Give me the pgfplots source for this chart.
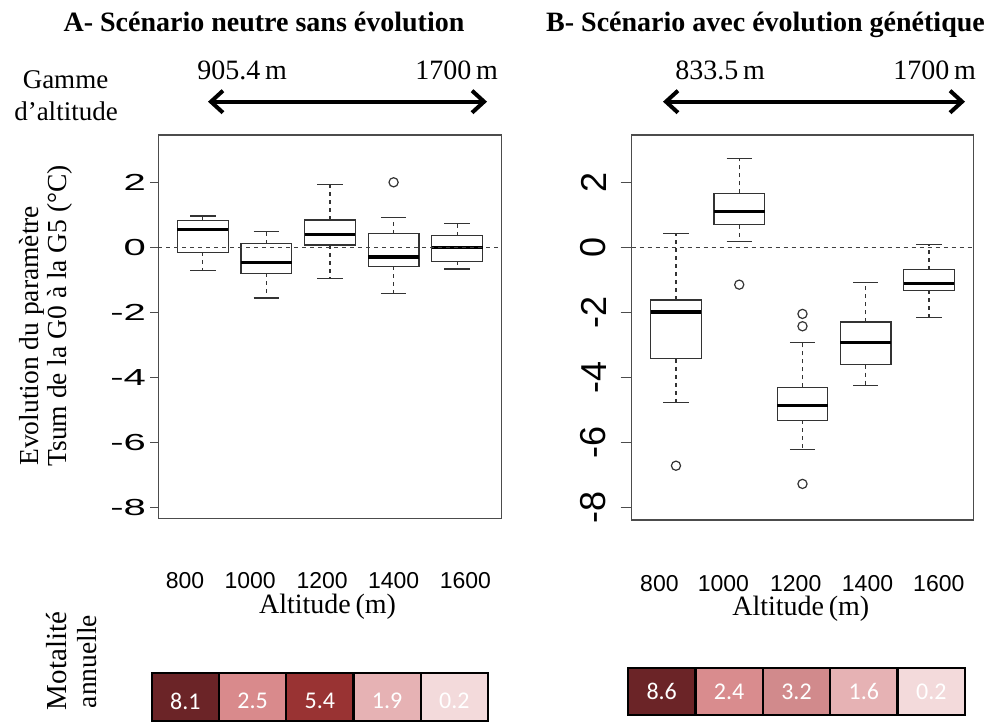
\documentclass[border=0pt]{standalone}
\usepackage{fontspec}
\setmainfont{Liberation Serif}
\newfontfamily\arial{Liberation Sans}
\newfontfamily\calibri{Carlito}
\usepackage{graphicx}
\usepackage{pgfplots}
\pgfplotsset{compat=1.18}
\usepgfplotslibrary{statistics}
\usetikzlibrary{arrows.meta}
\definecolor{cA1}{HTML}{6B2427}
\definecolor{cA2}{HTML}{D98A8C}
\definecolor{cA3}{HTML}{993333}
\definecolor{cA4}{HTML}{E6B2B4}
\definecolor{cA5}{HTML}{F3DADB}
\definecolor{cB1}{HTML}{6B2427}
\definecolor{cB2}{HTML}{D98C8E}
\definecolor{cB3}{HTML}{D18A8C}
\definecolor{cB4}{HTML}{E6B2B4}
\definecolor{cB5}{HTML}{F3DADB}
\newcommand\sq[1]{\scalebox{1}[0.58]{#1}}
\pgfplotsset{
  mybp/.style={
    solid, draw=black!80, line width=0.6pt,
    mark=o, mark size=2.3pt, mark options={solid, line width=0.6pt, draw=black!80},
    boxplot/draw direction=y,
    boxplot/box extend=0.8,
    boxplot/whisker extend=0,
    boxplot/every box/.style={draw=black!80, line width=0.6pt, fill=white},
    boxplot/every median/.style={draw=black, line width=1.6pt},
    boxplot/every whisker/.style={draw=black!80, line width=0.6pt, dash pattern=on 2pt off 2pt},
  },
  caps/.style={draw=black!80, line width=0.6pt, solid, no marks, unbounded coords=jump},
  panel/.style={
    anchor=south west, scale only axis, clip=false,
    xmin=0.3, xmax=5.7, ymax=3.455,
    axis line style={draw=black!70, line width=0.6pt},
    xticklabels={800,1000,1200,1400,1600},
    x tick style={draw=none},
    xticklabel style={anchor=center, font=\arial\fontsize{11.5}{13}\selectfont},
    ytick={-8,-6,-4,-2,0,2},
    y tick style={draw=black!70, line width=0.6pt},
    tick align=outside, ytick pos=left, xtick pos=bottom,
  },
  heat/.style={
    anchor=south west, scale only axis, hide axis, clip=false,
    xmin=0.5, xmax=5.5, ymin=0, ymax=1,
  },
  cell/.style={draw=black, line width=1.2pt, fill=#1},
}
\begin{document}
\begin{tikzpicture}[x=0.5pt, y=0.5pt]
\useasboundingbox (0,0) rectangle (987,722);

% ---------------- Panel A ----------------
\begin{axis}[panel,
  at={(79.15pt,101.85pt)}, width=171.7pt, height=191.65pt, ymin=-8.338,
  xtick={0.72,1.745,2.877,4.0,5.13},
  xticklabel style={yshift=-27.25pt},
  major tick length=4pt,
  yticklabels={\sq{-8},\sq{-6},\sq{-4},\sq{-2},\sq{0},\sq{2}},
  yticklabel style={anchor=east, inner sep=0pt, xshift=-2pt, font=\arial\fontsize{20}{22}\selectfont},
]
\addplot[mybp, boxplot prepared={draw position=1, lower whisker=-0.71, lower quartile=-0.15, median=0.55, upper quartile=0.82, upper whisker=0.96}] coordinates {};
\addplot[mybp, boxplot prepared={draw position=2, lower whisker=-1.56, lower quartile=-0.80, median=-0.46, upper quartile=0.11, upper whisker=0.49}] coordinates {};
\addplot[mybp, boxplot prepared={draw position=3, lower whisker=-0.95, lower quartile=0.07, median=0.40, upper quartile=0.84, upper whisker=1.93}] coordinates {};
\addplot[mybp, boxplot prepared={draw position=4, lower whisker=-1.42, lower quartile=-0.58, median=-0.30, upper quartile=0.42, upper whisker=0.92}] coordinates {(0,2.00)};
\addplot[mybp, boxplot prepared={draw position=5, lower whisker=-0.67, lower quartile=-0.43, median=-0.01, upper quartile=0.36, upper whisker=0.73}] coordinates {};
% whisker caps
\addplot[caps] coordinates {
 (0.8,0.96) (1.2,0.96) (nan,nan) (0.8,-0.71) (1.2,-0.71) (nan,nan)
 (1.8,0.49) (2.2,0.49) (nan,nan) (1.8,-1.56) (2.2,-1.56) (nan,nan)
 (2.8,1.93) (3.2,1.93) (nan,nan) (2.8,-0.95) (3.2,-0.95) (nan,nan)
 (3.8,0.92) (4.2,0.92) (nan,nan) (3.8,-1.42) (4.2,-1.42) (nan,nan)
 (4.8,0.73) (5.2,0.73) (nan,nan) (4.8,-0.67) (5.2,-0.67)};
\addplot[black!75, line width=0.5pt, dash pattern=on 2pt off 2pt] coordinates {(0.3,0) (5.7,0)};
\end{axis}

% ---------------- Panel B ----------------
\begin{axis}[panel,
  at={(315.85pt,101pt)}, width=170.8pt, height=192.5pt, ymin=-8.39,
  xtick={0.738,1.749,2.893,4.028,5.155},
  xticklabel style={yshift=-26.4pt},
  major tick length=5.5pt,
  yticklabels={-8,-6,-4,-2,0,2},
  yticklabel style={xshift=-7pt, rotate=90, anchor=south, inner sep=0pt, font=\arial\fontsize{18}{20}\selectfont},
]
\addplot[mybp, boxplot prepared={draw position=1, lower whisker=-4.77, lower quartile=-3.43, median=-1.99, upper quartile=-1.62, upper whisker=0.43}] coordinates {(0,-6.72)};
\addplot[mybp, boxplot prepared={draw position=2, lower whisker=0.17, lower quartile=0.69, median=1.11, upper quartile=1.66, upper whisker=2.72}] coordinates {(0,-1.15)};
\addplot[mybp, boxplot prepared={draw position=3, lower whisker=-6.23, lower quartile=-5.32, median=-4.86, upper quartile=-4.31, upper whisker=-2.94}] coordinates {(0,-2.05) (0,-2.43) (0,-7.28)};
\addplot[mybp, boxplot prepared={draw position=4, lower whisker=-4.25, lower quartile=-3.61, median=-2.92, upper quartile=-2.30, upper whisker=-1.09}] coordinates {};
\addplot[mybp, boxplot prepared={draw position=5, lower whisker=-2.15, lower quartile=-1.32, median=-1.11, upper quartile=-0.69, upper whisker=0.09}] coordinates {};
\addplot[caps] coordinates {
 (0.8,0.43) (1.2,0.43) (nan,nan) (0.8,-4.77) (1.2,-4.77) (nan,nan)
 (1.8,2.72) (2.2,2.72) (nan,nan) (1.8,0.17) (2.2,0.17) (nan,nan)
 (2.8,-2.94) (3.2,-2.94) (nan,nan) (2.8,-6.23) (3.2,-6.23) (nan,nan)
 (3.8,-1.09) (4.2,-1.09) (nan,nan) (3.8,-4.25) (4.2,-4.25) (nan,nan)
 (4.8,0.09) (5.2,0.09) (nan,nan) (4.8,-2.15) (5.2,-2.15)};
\addplot[black!75, line width=0.5pt, dash pattern=on 2pt off 2pt] coordinates {(0.3,0) (5.7,0)};
\end{axis}

% ---------------- Heat strips ----------------
\begin{axis}[heat, at={(75.85pt,0.5pt)}, width=168.15pt, height=23.85pt]
\addplot[cell=cA1] coordinates {(0.5,0) (1.5,0) (1.5,1) (0.5,1)} -- cycle;
\addplot[cell=cA2] coordinates {(1.5,0) (2.5,0) (2.5,1) (1.5,1)} -- cycle;
\addplot[cell=cA3] coordinates {(2.5,0) (3.5,0) (3.5,1) (2.5,1)} -- cycle;
\addplot[cell=cA4] coordinates {(3.5,0) (4.5,0) (4.5,1) (3.5,1)} -- cycle;
\addplot[cell=cA5] coordinates {(4.5,0) (5.5,0) (5.5,1) (4.5,1)} -- cycle;
\node[text=white, font=\calibri\fontsize{12}{14}\selectfont] at (axis cs:1,0.42) {8.1};
\node[text=white, font=\calibri\fontsize{12}{14}\selectfont] at (axis cs:2,0.42) {2.5};
\node[text=white, font=\calibri\fontsize{12}{14}\selectfont] at (axis cs:3,0.42) {5.4};
\node[text=white, font=\calibri\fontsize{12}{14}\selectfont] at (axis cs:4,0.42) {1.9};
\node[text=white, font=\calibri\fontsize{12}{14}\selectfont] at (axis cs:5,0.42) {0.2};
\end{axis}
\begin{axis}[heat, at={(314pt,3.5pt)}, width=168.5pt, height=23.5pt]
\addplot[cell=cB1] coordinates {(0.5,0) (1.5,0) (1.5,1) (0.5,1)} -- cycle;
\addplot[cell=cB2] coordinates {(1.5,0) (2.5,0) (2.5,1) (1.5,1)} -- cycle;
\addplot[cell=cB3] coordinates {(2.5,0) (3.5,0) (3.5,1) (2.5,1)} -- cycle;
\addplot[cell=cB4] coordinates {(3.5,0) (4.5,0) (4.5,1) (3.5,1)} -- cycle;
\addplot[cell=cB5] coordinates {(4.5,0) (5.5,0) (5.5,1) (4.5,1)} -- cycle;
\node[text=white, font=\calibri\fontsize{12}{14}\selectfont] at (axis cs:1,0.5) {8.6};
\node[text=white, font=\calibri\fontsize{12}{14}\selectfont] at (axis cs:2,0.5) {2.4};
\node[text=white, font=\calibri\fontsize{12}{14}\selectfont] at (axis cs:3,0.5) {3.2};
\node[text=white, font=\calibri\fontsize{12}{14}\selectfont] at (axis cs:4,0.5) {1.6};
\node[text=white, font=\calibri\fontsize{12}{14}\selectfont] at (axis cs:5,0.5) {0.2};
\end{axis}

% ---------------- Texts ----------------
\node[anchor=base, font=\bfseries\fontsize{14}{16}\selectfont] at (264,690.5) {A- Scénario neutre sans évolution};
\node[anchor=base, font=\bfseries\fontsize{14}{16}\selectfont] at (765.5,690.5) {B- Scénario avec évolution génétique};
\node[anchor=base, font=\fontsize{13.5}{15}\selectfont] at (65.5,633.7) {Gamme};
\node[anchor=base, font=\fontsize{13.5}{15}\selectfont] at (66,601) {d’altitude};
\node[anchor=base west, inner sep=0pt, font=\fontsize{14}{16}\selectfont] at (197,642) {905.4\,m};
\node[anchor=base west, inner sep=0pt, font=\fontsize{14}{16}\selectfont] at (415,642) {1700\,m};
\node[anchor=base west, inner sep=0pt, font=\fontsize{14}{16}\selectfont] at (675,642) {833.5\,m};
\node[anchor=base west, inner sep=0pt, font=\fontsize{14}{16}\selectfont] at (893,642) {1700\,m};
\draw[line width=2pt, {Straight Barb[length=6pt,width=11pt]}-{Straight Barb[length=6pt,width=11pt]}] (208,620.3) -- (487,620.3);
\draw[line width=2pt, {Straight Barb[length=6pt,width=11pt]}-{Straight Barb[length=6pt,width=11pt]}] (663,620.3) -- (965,620.3);
\node[rotate=90, anchor=base west, inner sep=0pt, font=\fontsize{13.75}{15}\selectfont] at (39,256) {Evolution du paramètre};
\node[rotate=90, anchor=base west, inner sep=0pt, font=\fontsize{13.75}{15}\selectfont] at (67,255) {Tsum de la G0 à la G5 (°C)};
\node[anchor=base, font=\fontsize{14}{16}\selectfont] at (327.5,108) {Altitude\,(m)};
\node[anchor=base, font=\fontsize{14}{16}\selectfont] at (800.8,106) {Altitude\,(m)};
\node[rotate=90, anchor=base, inner sep=0pt, font=\fontsize{14.5}{16}\selectfont] at (67,61) {Motalité};
\node[rotate=90, anchor=base, inner sep=0pt, font=\fontsize{13.75}{15}\selectfont] at (97,60.5) {annuelle};
\end{tikzpicture}
\end{document}
